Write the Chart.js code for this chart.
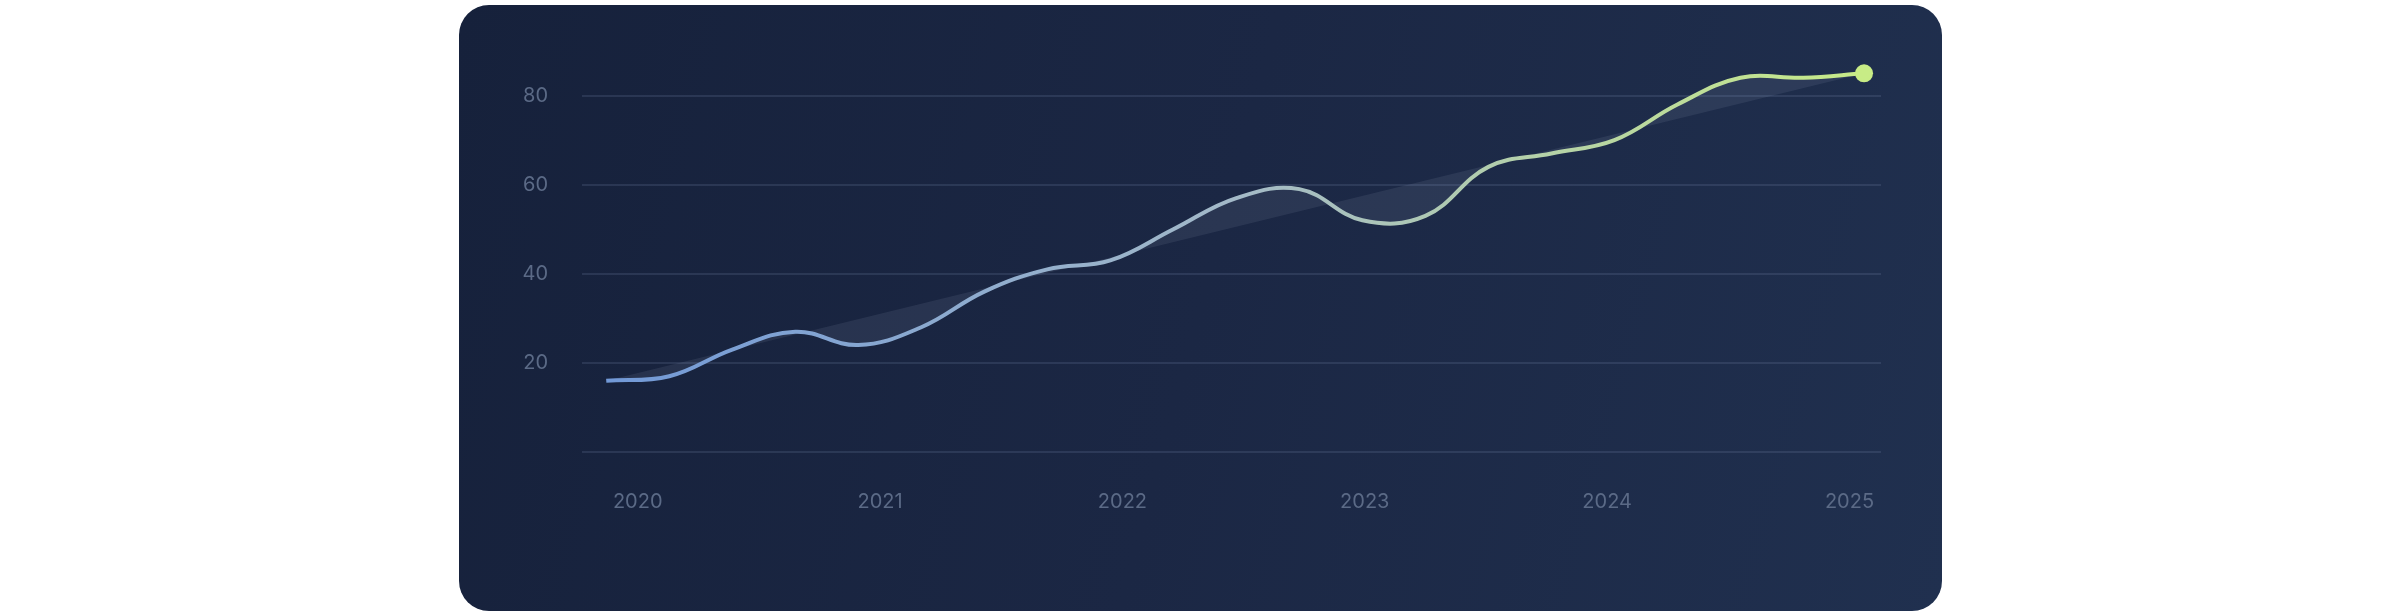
<!DOCTYPE html>
<html><head><meta charset="utf-8">
<script src="https://cdn.jsdelivr.net/npm/chart.js@4"></script>
<style>
html,body{margin:0;padding:0;background:#fff;width:2400px;height:616px;overflow:hidden}
#card{position:absolute;left:459px;top:5px;width:1483px;height:606px;border-radius:30px;
background:linear-gradient(105deg,#16213b 0%,#1b2744 50%,#20304f 100%);overflow:hidden}
canvas{position:absolute;left:0;top:0}
</style></head><body>
<div id="card"><canvas id="c" width="1483" height="606"></canvas></div>
<script>
const xValues=[2019.87,2020.13,2020.39,2020.65,2020.91,2021.17,2021.43,2021.69,2021.95,2022.21,2022.47,2022.73,2022.99,2023.25,2023.51,2023.77,2024.03,2024.29,2024.55,2024.81,2025.06];
const yValues=[16,17,23,27,24,28,36,41,43,50,57,59,52,53,64,67,70,78,84,84,85];
const trendX=[2019.87,2025.06];
const trendY=[16,85];
const xTicks=[2020,2021,2022,2023,2024,2025];
const yTicks=[0,20,40,60,80];

const line=xValues.map((x,i)=>({x:x,y:yValues[i]}));
const trend=trendX.map((x,i)=>({x:x,y:trendY[i]}));
const tickColor='#5b6a86';
new Chart(document.getElementById('c'),{
type:'line',
data:{datasets:[
{data:line,tension:0.4,borderWidth:4,fill:false,order:0,
 borderColor:(ctx)=>{const a=ctx.chart.chartArea;if(!a)return '#8fb0e0';
  const g=ctx.chart.ctx.createLinearGradient(a.left,0,a.right,0);
  g.addColorStop(0,'#7098d8');g.addColorStop(0.5,'#a3b9c8');g.addColorStop(1,'#c8ec86');return g;},
 pointRadius:yValues.map((v,i)=>i===yValues.length-1?9:0),
 pointBackgroundColor:'#c8ec86',pointBorderWidth:0,pointHoverRadius:0},
{data:trend,borderWidth:0,pointRadius:0,fill:{target:0},backgroundColor:'rgba(200,215,235,0.09)',order:1}
]},
options:{responsive:false,animation:false,
layout:{padding:{left:0,right:61,top:35,bottom:0}},
plugins:{legend:{display:false},tooltip:{enabled:false}},
scales:{
x:{type:'linear',min:2019.77,max:2025.13,
 afterBuildTicks:s=>{s.ticks=xTicks.map(v=>({value:v}));},
 afterFit:s=>{s.height=159;},
 grid:{display:false},border:{display:false},
 ticks:{color:tickColor,font:{family:'Inter',size:20},padding:30,callback:v=>String(v)}},
y:{min:0,max:90,
 afterBuildTicks:s=>{s.ticks=yTicks.map(v=>({value:v}));},
 afterFit:s=>{s.width=123;},
 grid:{color:'rgba(140,160,200,0.16)',lineWidth:2,drawTicks:false},border:{display:false},
 ticks:{color:tickColor,font:{family:'Inter',size:20},padding:34,callback:v=>v===0?'':String(v)}}
}}
});
</script></body></html>
